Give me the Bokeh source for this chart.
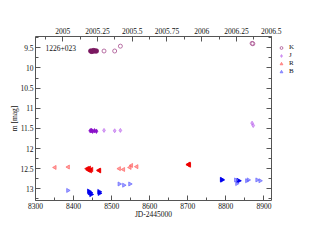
import numpy as np
from bokeh.plotting import figure
from bokeh.layouts import row
from bokeh.models import (Range1d, LinearAxis, SingleIntervalTicker, CustomJSTickFormatter,
                          Legend, LegendItem, Label)
from bokeh.embed import file_html
from bokeh.resources import INLINE

# ---- data (JD-2445000, magnitude) ----
K_filled_jd = [8445, 8448, 8450, 8453, 8456, 8460]
K_filled_m = [9.58, 9.59, 9.58, 9.57, 9.58, 9.58]
K_open_jd = [8480, 8508, 8523, 8869, 8871]
K_open_m = [9.58, 9.58, 9.46, 9.39, 9.40]

J_filled_jd = [8444, 8447, 8450, 8455, 8460]
J_filled_m = [11.56, 11.55, 11.57, 11.56, 11.57]
J_open_jd = [8480, 8508, 8523, 8869, 8872]
J_open_m = [11.55, 11.56, 11.55, 11.37, 11.43]

R_filled_jd = [8436, 8439, 8441, 8444, 8447, 8467, 8468, 8702, 8704, 8703]
R_filled_m = [12.50, 12.53, 12.49, 12.55, 12.52, 12.54, 12.55, 12.40, 12.41, 12.39]
R_open_jd = [8351, 8386, 8520, 8531, 8548, 8552, 8566]
R_open_m = [12.47, 12.46, 12.50, 12.52, 12.47, 12.42, 12.45]

B_filled_jd = [8440, 8442, 8444, 8446, 8467, 8468, 8789, 8790, 8832, 8834]
B_filled_m = [13.06, 13.09, 13.10, 13.14, 13.07, 13.11, 12.77, 12.78, 12.80, 12.80]
B_open_jd = [8385, 8520, 8532, 8548, 8826, 8829, 8855, 8859, 8882, 8890]
B_open_m = [13.04, 12.88, 12.91, 12.88, 12.78, 12.87, 12.80, 12.78, 12.78, 12.80]

bands = ["K", "J", "R", "B"]
source_name = "1226+023"

JD_START, JD_END = 8300, 8920
M_BOTTOM, M_TOP = 13.29, 9.22
JD_YEAR0 = 8371.5   # 2005.0
YEAR_LEN = 365.25

FONT = "Liberation Serif"
AX = "#555555"
TXT = "#111111"

p = figure(width=282, height=243, output_backend="svg", toolbar_location=None,
           x_range=Range1d(JD_START, JD_END), y_range=Range1d(M_BOTTOM, M_TOP),
           min_border_left=35, min_border_top=36, min_border_right=11, min_border_bottom=43,
           x_axis_label="JD-2445000", y_axis_label="m [mag]")
p.grid.visible = False
p.outline_line_color = None
p.background_fill_color = "white"
p.border_fill_color = "white"

p.extra_x_ranges = {"year": Range1d(2005 + (JD_START - JD_YEAR0) / YEAR_LEN,
                                    2005 + (JD_END - JD_YEAR0) / YEAR_LEN)}

fmt = CustomJSTickFormatter(code="return String(Math.round(tick*1000)/1000);")

def style(ax):
    ax.axis_line_color = AX
    ax.major_tick_line_color = AX
    ax.minor_tick_line_color = AX
    ax.major_tick_in = 5
    ax.major_tick_out = 0
    ax.minor_tick_in = 3
    ax.minor_tick_out = 0
    ax.major_label_text_font = FONT
    ax.major_label_text_font_size = "7.5px"
    ax.major_label_text_color = TXT
    ax.axis_label_text_font = FONT
    ax.axis_label_text_font_size = "7.5px"
    ax.axis_label_text_font_style = "normal"
    ax.axis_label_text_color = TXT
    ax.major_label_standoff = 2
    ax.axis_label_standoff = 2

xa = p.xaxis[0]
xa.ticker = SingleIntervalTicker(interval=100, num_minor_ticks=2)
xa.formatter = fmt
style(xa)
xa.axis_label_standoff = -2
ya = p.yaxis[0]
ya.ticker = SingleIntervalTicker(interval=0.5, num_minor_ticks=2)
ya.formatter = fmt
style(ya)
ya.axis_label_standoff = -2

top = LinearAxis(x_range_name="year", ticker=SingleIntervalTicker(interval=0.25, num_minor_ticks=2),
                 formatter=fmt)
style(top)
top.major_label_standoff = 3
p.add_layout(top, "above")

right = LinearAxis(ticker=SingleIntervalTicker(interval=0.5, num_minor_ticks=2),
                   formatter=CustomJSTickFormatter(code="return '';"))
style(right)
p.add_layout(right, "right")

filled_cols = {"K": "#7a1860", "J": "#8a10c8", "R": "#ee0000", "B": "#0000ee"}
open_cols = {"K": "#b0609a", "J": "#c070ee", "R": "#ff6666", "B": "#6666ff"}
markers = {"K": ("circle", 0), "J": ("diamond", 0), "R": ("triangle", np.pi / 2), "B": ("triangle", -np.pi / 2)}
data = {"K": (K_filled_jd, K_filled_m, K_open_jd, K_open_m),
        "J": (J_filled_jd, J_filled_m, J_open_jd, J_open_m),
        "R": (R_filled_jd, R_filled_m, R_open_jd, R_open_m),
        "B": (B_filled_jd, B_filled_m, B_open_jd, B_open_m)}

# legend panel: narrow transparent figure, pulled left over the plot's right border
lg = figure(width=38, height=243, output_backend="svg", toolbar_location=None,
            x_range=Range1d(0, 1), y_range=Range1d(0, 1),
            x_axis_type=None, y_axis_type=None,
            min_border=0, min_border_left=0, min_border_right=0, min_border_top=0, min_border_bottom=0)
lg.grid.visible = False
lg.outline_line_color = None
lg.background_fill_color = None
lg.border_fill_color = None
lg.styles = {"margin-left": "-6px"}

def open_style(b):
    if b == "K":
        return dict(fill_color=None, line_color=open_cols[b], line_width=0.9)
    return dict(fill_color=open_cols[b], fill_alpha=0.6, line_color=open_cols[b], line_width=0.7)

items = []
for b in bands:
    fj, fm, oj, om = data[b]
    mk, ang = markers[b]
    p.scatter(fj, fm, marker=mk, angle=ang, size=4.5, fill_color=filled_cols[b],
              line_color=filled_cols[b], line_width=0.7)
    p.scatter(oj, om, marker=mk, angle=ang, size=4, **open_style(b))
    # same open series in the legend panel (its range keeps them out of view)
    r = lg.scatter(oj, om, marker=mk, angle=ang, size=4, **open_style(b))
    items.append(LegendItem(label=b, renderers=[r]))

legend = Legend(items=items, location=(1, 125), label_text_font=FONT,
                label_text_font_size="7px", label_height=7, glyph_height=7, glyph_width=8,
                spacing=0, padding=0, margin=0, label_standoff=4, label_text_color=TXT,
                background_fill_alpha=0, border_line_color=None)
lg.add_layout(legend, "center")

p.add_layout(Label(x=8326, y=9.5, text=source_name, text_font=FONT, text_font_size="7.5px",
                   text_baseline="middle", text_color=TXT))

layout = row(p, lg, spacing=0)
open("out.html", "w").write(file_html(layout, INLINE))
